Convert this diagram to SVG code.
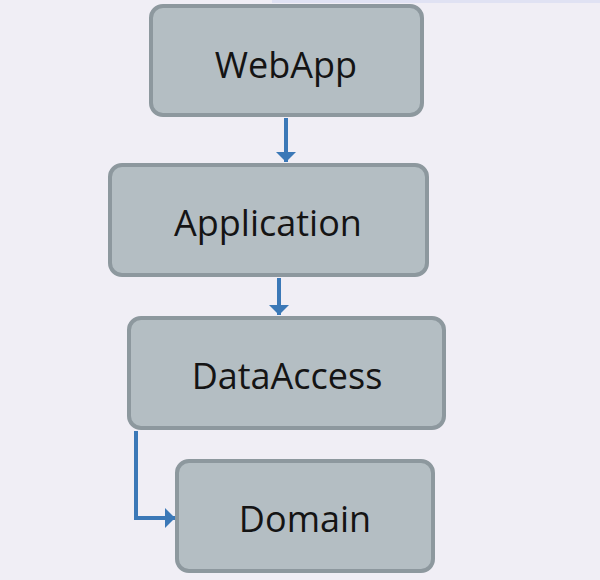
<svg xmlns="http://www.w3.org/2000/svg" width="600" height="580" viewBox="0 0 600 580">
<defs>
<style>
.box{fill:#b4bec3;stroke:#8d989e;stroke-width:4}
.lbl{font-family:"Open Sans","Noto Sans",sans-serif;font-size:36px;fill:#141414;text-anchor:middle}
.con{fill:none;stroke:#3b78b7;stroke-width:4}
</style>
<marker id="ah" viewBox="0 0 10 20" refX="10" refY="10" markerWidth="10" markerHeight="20" orient="auto" markerUnits="userSpaceOnUse">
<path d="M0,0 L10,10 L0,20 z" fill="#3b78b7"/>
</marker>
</defs>
<rect width="600" height="580" fill="#f0eef5"/>
<rect x="272" y="0" width="328" height="3" fill="#e0e2f3"/>
<g id="connectors">
<line class="con" x1="286" y1="118" x2="286" y2="162" marker-end="url(#ah)"/>
<line class="con" x1="279" y1="278" x2="279" y2="315" stroke-width="2.5" marker-end="url(#ah)"/>
<path class="con" d="M136,431 V518 H175" marker-end="url(#ah)"/>
</g>
<g id="webapp"><rect class="box" x="151" y="6" width="271" height="109" rx="12"/><text class="lbl" x="286" y="78">WebApp</text></g>
<g id="application"><rect class="box" x="110" y="165" width="317" height="110" rx="12"/><text class="lbl" x="268" y="236">Application</text></g>
<g id="dataaccess"><rect class="box" x="129" y="318" width="315" height="110" rx="12"/><text class="lbl" x="287" y="389">DataAccess</text></g>
<g id="domain"><rect class="box" x="177" y="461" width="256" height="110" rx="12"/><text class="lbl" x="305" y="532">Domain</text></g>
</svg>
